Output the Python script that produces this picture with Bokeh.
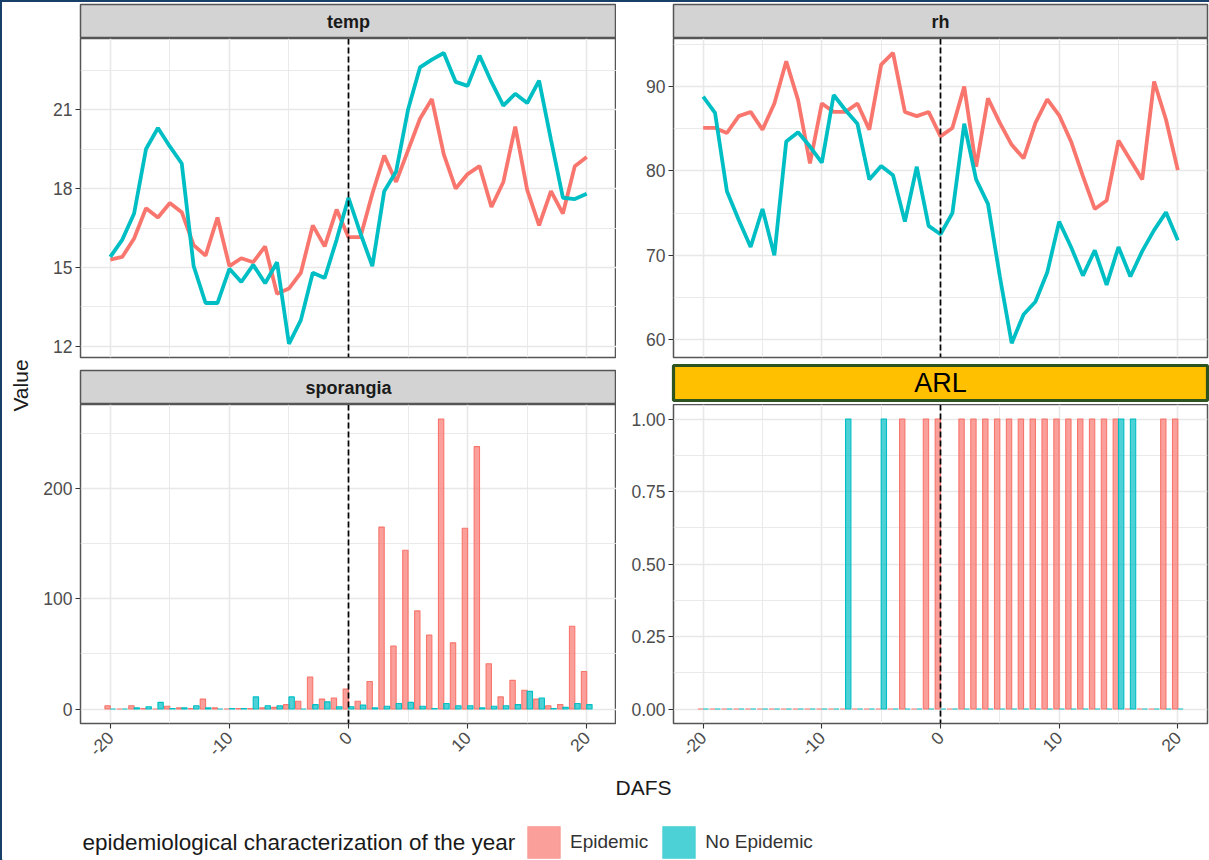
import math

from bokeh.core.properties import value
from bokeh.embed import file_html
from bokeh.layouts import column, row
from bokeh.models import (ColumnDataSource, FixedTicker, Legend, LegendItem,
                          NumeralTickFormatter, Range1d, Span)
from bokeh.plotting import figure
from bokeh.resources import INLINE
from bokeh.transform import dodge

# ---------------------------------------------------------------- data
dafs = list(range(-20, 21))
x_ticks = [-20, -10, 0, 10, 20]
x_minor = [-15, -5, 5, 15]
x_tick_labels = {-20: "-20", -10: "-10", 0: "0", 10: "10", 20: "20"}

groups = ["Epidemic", "No Epidemic"]
group_colors = ["#F8766D", "#00BFC4"]

temp_epidemic = [15.3, 15.4, 16.1, 17.25, 16.9, 17.45, 17.1, 15.85, 15.45, 16.9,
                 15.05, 15.35, 15.2, 15.8, 14.0, 14.2, 14.8, 16.6, 15.8, 17.2,
                 16.15, 16.15, 17.8, 19.25, 18.25, 19.45, 20.65, 21.4, 19.3, 18.0,
                 18.55, 18.85, 17.3, 18.25, 20.35, 17.95, 16.6, 17.9, 17.05, 18.85, 19.2]
temp_no_epidemic = [15.4, 16.05, 17.05, 19.5, 20.3, 19.6, 18.95, 15.05, 13.65, 13.65,
                    14.95, 14.45, 15.1, 14.4, 15.2, 12.1, 13.0, 14.8, 14.6, 16.05,
                    17.65, 16.3, 15.05, 17.9, 18.65, 21.0, 22.6, 22.9, 23.15, 22.05,
                    21.9, 23.05, 22.05, 21.15, 21.6, 21.25, 22.1, 19.85, 17.65, 17.6, 17.8]

rh_epidemic = [85.1, 85.1, 84.5, 86.5, 87.0, 84.9, 88.0, 93.0, 88.4, 80.9,
               88.0, 87.0, 87.0, 88.0, 84.9, 92.6, 94.0, 87.0, 86.5, 87.0,
               84.1, 85.1, 90.0, 80.5, 88.6, 85.7, 83.1, 81.5, 85.7, 88.5,
               86.6, 83.5, 79.4, 75.5, 76.5, 83.6, 81.3, 79.0, 90.6, 86.1, 80.1]
rh_no_epidemic = [88.8, 86.9, 77.6, 74.2, 71.0, 75.5, 70.0, 83.5, 84.6, 82.9,
                  81.0, 89.0, 87.2, 85.6, 79.0, 80.6, 79.5, 74.0, 80.5, 73.5,
                  72.5, 75.0, 85.6, 79.0, 76.1, 67.5, 59.6, 63.0, 64.5, 68.0,
                  74.0, 71.0, 67.6, 70.6, 66.5, 71.0, 67.5, 70.5, 73.0, 75.1, 71.8]

sporangia_epidemic = [3, 0, 3, 0.5, 0, 2.5, 1, 0.5, 9, 1,
                      0, 0.5, 0.5, 1, 1.5, 4, 7, 29, 9, 10,
                      18, 7, 25, 165, 57, 144, 89, 67, 263, 60,
                      164, 238, 41, 11, 26, 17, 9, 3, 4, 75, 34]
sporangia_no_epidemic = [0, 0, 1, 2, 6, 0.5, 1, 3, 1, 0,
                         0.5, 0.5, 11, 3, 3, 11, 0, 4, 6.5, 2,
                         2, 3.5, 1, 2.5, 5, 6, 2.5, 0.5, 5, 3,
                         3, 1, 2.5, 3, 4, 16, 10, 0.5, 1.5, 5, 4]

arl_epidemic = [0, 0, 0, 0, 0, 0, 0, 0, 0, 0,
                0, 0, 0, 0, 0, 0, 0, 1, 0, 1,
                1, 0, 1, 1, 1, 1, 1, 1, 1, 1,
                1, 1, 1, 1, 1, 1, 0, 0, 0, 1, 1]
arl_no_epidemic = [0, 0, 0, 0, 0, 0, 0, 0, 0, 0,
                   0, 0, 1, 0, 0, 1, 0, 0, 0, 0,
                   0, 0, 0, 0, 0, 0, 0, 0, 0, 0,
                   0, 0, 0, 0, 0, 1, 1, 0, 0, 0, 0]

source = ColumnDataSource(dict(
    dafs=dafs,
    temp_epi=temp_epidemic, temp_no=temp_no_epidemic,
    rh_epi=rh_epidemic, rh_no=rh_no_epidemic,
    spor_epi=sporangia_epidemic, spor_no=sporangia_no_epidemic,
    arl_epi=arl_epidemic, arl_no=arl_no_epidemic,
))

# ---------------------------------------------------------------- style
FONT = "Liberation Sans"
INK = "#1A1A1A"
TICK_TEXT = "#4D4D4D"
FRAME = "#555555"
GRID = "#E8E8E8"
STRIP_FILL = "#D3D3D3"
NAVY = "#173F6A"
BAR_WIDTH = 0.45
AXIS_SPACE = 44          # room under the bottom panels for the rotated labels


def style_axis(axis):
    axis.axis_line_color = None
    axis.major_tick_line_color = "#333333"
    axis.major_tick_line_width = 1.1
    axis.major_tick_out = 5
    axis.major_tick_in = 0
    axis.minor_tick_line_color = None
    axis.major_label_standoff = 3
    axis.major_label_text_font = FONT
    axis.major_label_text_font_size = "17.5px"
    axis.major_label_text_color = TICK_TEXT


def make_panel(width, height, border_left, border_bottom, border_right,
               y_range, y_ticks, y_minor, show_x):
    p = figure(width=width, height=height, title=None, toolbar_location=None,
               output_backend="svg",
               x_range=Range1d(-22.5, 22.5), y_range=Range1d(*y_range),
               x_axis_location="below" if show_x else None,
               min_border_left=border_left, min_border_right=border_right,
               min_border_top=0, min_border_bottom=border_bottom,
               background_fill_color="white", border_fill_color="white",
               outline_line_color=FRAME, outline_line_width=1.5)
    xt = FixedTicker(ticks=x_ticks, minor_ticks=x_minor)
    yt = FixedTicker(ticks=y_ticks, minor_ticks=y_minor)
    p.xgrid.ticker = xt
    p.ygrid.ticker = yt
    for g in (p.xgrid, p.ygrid):
        g.grid_line_color = GRID
        g.grid_line_width = 1.6
        g.minor_grid_line_color = GRID
        g.minor_grid_line_width = 0.9
    p.yaxis.ticker = yt
    style_axis(p.yaxis)
    if show_x:
        p.xaxis.ticker = xt
        style_axis(p.xaxis)
        p.xaxis.major_label_overrides = x_tick_labels
        p.xaxis.major_label_orientation = math.pi / 4
        p.xaxis.major_label_standoff = 6
    return p


def add_zero_line(p):
    p.add_layout(Span(location=0, dimension="height", line_color="black",
                      line_dash="6 3", line_width=1.7))


def make_strip(width, height, border_left, border_top, border_bottom, border_right,
               label, fill, edge, edge_width, size, style, color):
    s = figure(width=width, height=height, title=None, toolbar_location=None,
               output_backend="svg", x_range=Range1d(0, 1), y_range=Range1d(0, 1),
               x_axis_location=None, y_axis_location=None,
               min_border_left=border_left, min_border_right=border_right,
               min_border_top=border_top, min_border_bottom=border_bottom,
               background_fill_color=fill, border_fill_color="white",
               outline_line_color=edge, outline_line_width=edge_width)
    s.xgrid.visible = False
    s.ygrid.visible = False
    s.text(x=[0.5], y=[0.5], text=[label], text_align="center", text_baseline="middle",
           text_font=value(FONT), text_font_size=size, text_font_style=style,
           text_color=color)
    return s


def add_lines(p, epi, no):
    p.line("dafs", epi, source=source, color=group_colors[0], line_width=3.8)
    p.line("dafs", no, source=source, color=group_colors[1], line_width=3.8)


def add_bars(p, epi, no):
    for col, off, colr in ((epi, -BAR_WIDTH / 2, group_colors[0]),
                           (no, BAR_WIDTH / 2, group_colors[1])):
        p.vbar(x=dodge("dafs", off), top=col, bottom=0, width=BAR_WIDTH, source=source,
               fill_color=colr, fill_alpha=0.7, line_color=colr, line_width=1.1)


# ---------------------------------------------------------------- left column
LEFT_W, LEFT_B = 576, 39
BOTTOM_PANEL_H = 319 + AXIS_SPACE
strip_temp = make_strip(LEFT_W, 36, LEFT_B, 2, 0, 0, "temp", STRIP_FILL, FRAME, 1.5,
                        "18px", "bold", INK)
temp_p = make_panel(LEFT_W, 327, LEFT_B, 8, 0, (11.58, 23.7),
                    [12, 15, 18, 21], [13.5, 16.5, 19.5, 22.5], False)
add_lines(temp_p, "temp_epi", "temp_no")
add_zero_line(temp_p)

strip_spor = make_strip(LEFT_W, 39, LEFT_B, 5, 0, 0, "sporangia", STRIP_FILL, FRAME, 1.5,
                        "18px", "bold", INK)
spor_p = make_panel(LEFT_W, BOTTOM_PANEL_H, LEFT_B, AXIS_SPACE, 0, (-13.15, 276.2),
                    [0, 100, 200], [50, 150, 250], True)
add_bars(spor_p, "spor_epi", "spor_no")
add_zero_line(spor_p)

# ---------------------------------------------------------------- right column
RIGHT_W, RIGHT_B = 593, 57
strip_rh = make_strip(RIGHT_W, 36, RIGHT_B, 2, 0, 0, "rh", STRIP_FILL, FRAME, 1.5,
                      "18px", "bold", INK)
rh_p = make_panel(RIGHT_W, 325, RIGHT_B, 6, 0, (57.9, 95.7),
                  [60, 70, 80, 90], [65, 75, 85, 95], False)
add_lines(rh_p, "rh_epi", "rh_no")
add_zero_line(rh_p)

strip_arl = make_strip(RIGHT_W, 41, RIGHT_B - 1, 2, 4, 2, "ARL", "#FFC000", "#2D5420", 3.2,
                       "27px", "normal", "black")
arl_p = make_panel(RIGHT_W, BOTTOM_PANEL_H, RIGHT_B, AXIS_SPACE, 0, (-0.05, 1.05),
                   [0, 0.25, 0.5, 0.75, 1], [0.125, 0.375, 0.625, 0.875], True)
arl_p.yaxis.formatter = NumeralTickFormatter(format="0.00")
add_bars(arl_p, "arl_epi", "arl_no")
add_zero_line(arl_p)

# ---------------------------------------------------------------- shared y title
COL_H = 36 + 327 + 39 + BOTTOM_PANEL_H
value_fig = figure(width=38, height=COL_H, title=None, toolbar_location=None,
                   output_backend="svg", x_range=Range1d(0, 38), y_range=Range1d(0, COL_H),
                   x_axis_location=None, y_axis_location=None, min_border=0,
                   outline_line_color=None)
value_fig.xgrid.visible = False
value_fig.ygrid.visible = False
value_fig.text(x=[18], y=[COL_H - 383], text=["Value"], angle=math.pi / 2,
               text_align="center", text_baseline="middle", text_font=value(FONT),
               text_font_size="21px", text_color=INK)

# ---------------------------------------------------------------- x title and legend
BOTTOM_H = 858 - COL_H
bottom = figure(width=1207, height=BOTTOM_H, title=None, toolbar_location=None,
                output_backend="svg", x_range=Range1d(0, 1207), y_range=Range1d(0, BOTTOM_H),
                x_axis_location=None, y_axis_location=None, min_border=0,
                outline_line_color=None)
bottom.xgrid.visible = False
bottom.ygrid.visible = False
bottom.text(x=[641], y=[73], text=["DAFS"], text_align="center", text_baseline="alphabetic",
            text_font=value(FONT), text_font_size="21px", text_color=INK)
bottom.text(x=[80], y=[18], text=["epidemiological characterization of the year"],
            text_align="left", text_baseline="middle", text_font=value(FONT),
            text_font_size="22.5px", text_color=INK)

# key glyphs: one bar per group placed outside the visible range
key_renderers = []
for colr in group_colors:
    key_renderers.append(bottom.vbar(x=[-5000], top=[1], width=0.5, fill_color=colr,
                                     fill_alpha=0.7, line_color=colr, line_alpha=0.35,
                                     line_width=1))
legend = Legend(items=[LegendItem(label=g, renderers=[r]) for g, r in zip(groups, key_renderers)],
                orientation="horizontal", location=(521, -2), glyph_width=41, glyph_height=40,
                label_height=40, label_standoff=6, spacing=10, padding=0, margin=0,
                border_line_color=None, background_fill_alpha=0,
                label_text_font=FONT, label_text_font_size="19px", label_text_color="#333333")
bottom.add_layout(legend, "center")

# ---------------------------------------------------------------- page
left_col = column(strip_temp, temp_p, strip_spor, spor_p)
right_col = column(strip_rh, rh_p, strip_arl, arl_p)
page = column(row(value_fig, left_col, right_col), bottom,
              styles={"border-top": f"2px solid {NAVY}", "border-left": f"2px solid {NAVY}"})

open("out.html", "w").write(file_html(page, INLINE))
